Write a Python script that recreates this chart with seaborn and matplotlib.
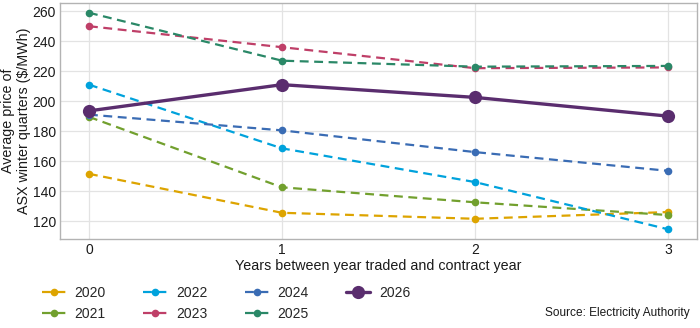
import matplotlib
matplotlib.use("Agg")
import matplotlib.pyplot as plt
import seaborn as sns
import pandas as pd

years_between = [0, 1, 2, 3]
series_names = ["2020", "2021", "2022", "2023", "2024", "2025", "2026"]
v2020 = [151.5, 125.5, 121.5, 126]
v2021 = [189.5, 142.5, 132.5, 124]
v2022 = [211, 168.5, 146, 114.5]
v2023 = [250, 236, 222, 222.5]
v2024 = [191, 180.5, 166, 153.5]
v2025 = [259, 227, 223, 223.5]
v2026 = [193.5, 211, 202.5, 190]
colors = ["#DDA400", "#72A02E", "#00A2DC", "#BF3F68", "#3A6CB4", "#2A8867", "#5A2D6E"]

values = [v2020, v2021, v2022, v2023, v2024, v2025, v2026]
rows = []
for name, vals in zip(series_names, values):
    for x, v in zip(years_between, vals):
        rows.append({"years": x, "price": v, "series": name})
df = pd.DataFrame(rows)

sns.set_theme(style="whitegrid")
plt.rcParams["font.family"] = ["Liberation Sans", "DejaVu Sans"]

fig = plt.figure(figsize=(7, 3.28), dpi=100)
ax = fig.add_axes([0.0857, 0.2713, 0.91, 0.7196])

for name, col in zip(series_names, colors):
    sub = df[df["series"] == name]
    if name == "2026":
        sns.lineplot(data=sub, x="years", y="price", ax=ax, color=col, lw=2.4,
                     marker="o", markersize=9.5, markeredgewidth=0, label=name)
    else:
        sns.lineplot(data=sub, x="years", y="price", ax=ax, color=col, lw=1.6,
                     marker="o", markersize=5.5, markeredgewidth=0, label=name)
        ax.lines[-1].set_linestyle((0, (4, 2.5)))

ax.set_xlim(-0.15, 3.15)
ax.set_ylim(108, 265.5)
ax.set_xticks([0, 1, 2, 3])
ax.set_yticks([120, 140, 160, 180, 200, 220, 240, 260])
ax.tick_params(axis="both", labelsize=10, colors="#1a1a1a", length=0, pad=3)
ax.set_xlabel("Years between year traded and contract year", fontsize=10.3, color="#1a1a1a", labelpad=1)
ax.set_ylabel("Average price of\nASX winter quarters (\\$/MWh)", fontsize=10.3, color="#1a1a1a",
              labelpad=1, linespacing=1.15)
ax.grid(True, color="#e3e3e3", lw=0.9)
for s in ax.spines.values():
    s.set_color("#b3b3b3")
    s.set_linewidth(1.0)
ax.set_facecolor("white")

handles, labels = ax.get_legend_handles_labels()
ax.get_legend().remove()
fig.legend(handles, labels, loc="upper left", bbox_to_anchor=(0.06, 0.128),
           ncol=4, frameon=False, fontsize=10, handlelength=1.7, columnspacing=2.7,
           handletextpad=0.65, labelspacing=0.5, borderaxespad=0, borderpad=0)

fig.text(0.986, 0.028, "Source: Electricity Authority", ha="right", va="bottom", fontsize=8.6, color="#1a1a1a")

fig.savefig("out.png", dpi=100)
